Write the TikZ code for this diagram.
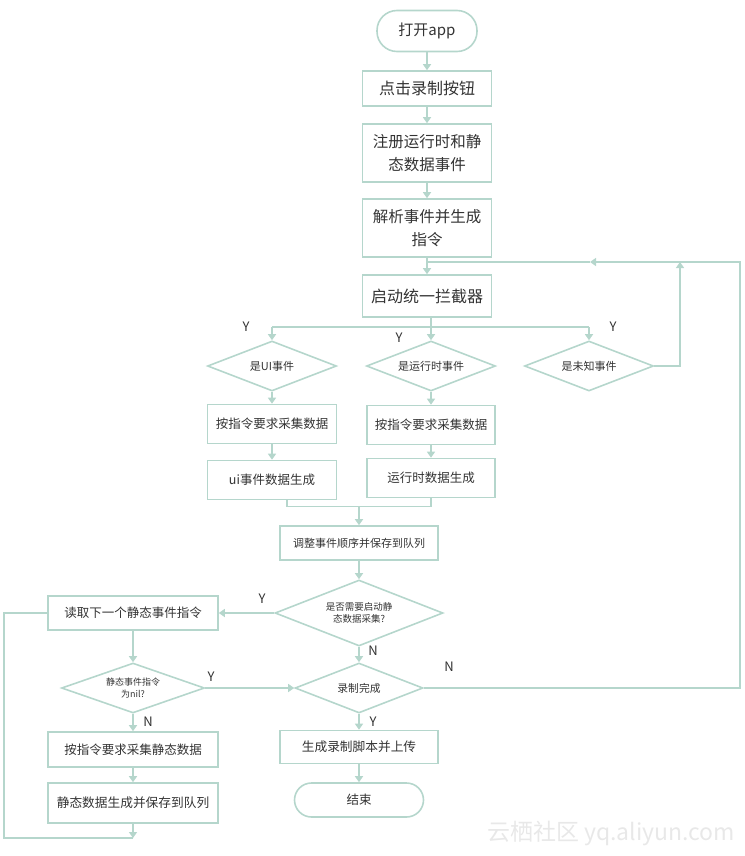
\documentclass[tikz,border=0pt]{standalone}
\usepackage{fontspec}
\setmainfont{Noto Sans CJK SC}
\usetikzlibrary{arrows.meta,shapes.geometric}
\definecolor{flowline}{RGB}{181,214,204}
\definecolor{flowtext}{RGB}{51,51,51}
\definecolor{marktext}{RGB}{232,232,232}
\tikzset{
	stepbox/.style={draw=flowline, line width=1.6pt, text=flowtext, align=center, inner sep=0pt, minimum width=129pt},
	termbox/.style={stepbox, rounded corners=17pt},
	askbox/.style={diamond, draw=flowline, line width=1.6pt, text=flowtext, align=center, inner sep=0pt, aspect=2.6, minimum width=129pt, minimum height=50pt},
	flow/.style={draw=flowline, line width=1.6pt, -{Triangle[width=8pt,length=6pt]}},
	joint/.style={draw=flowline, line width=1.6pt},
	yn/.style={text=flowtext, font=\fontsize{13}{13}\selectfont}
}
\newcommand{\fsz}[2]{\fontsize{#1}{#2}\selectfont}
\begin{document}
\begin{tikzpicture}[x=1pt,y=-1pt]
		\useasboundingbox (0,0) rectangle (744,856);
		% main column
		\node[termbox, rounded corners=20pt, minimum width=100pt, minimum height=41pt, font=\fsz{15}{22}] (start) at (427,31) {打开app};
		\node[stepbox, minimum height=35pt, font=\fsz{16}{23}] (rec) at (427,88.5) {点击录制按钮};
		\node[stepbox, minimum height=58pt, font=\fsz{15.5}{23}] (reg) at (427,153) {注册运行时和静\\态数据事件};
		\node[stepbox, minimum height=58pt, font=\fsz{15.5}{23}] (parse) at (427,228) {解析事件并生成\\指令};
		\node[stepbox, minimum height=42pt, font=\fsz{16}{23}] (icpt) at (427,296) {启动统一拦截器};
		% three event checks
		\node[askbox, font=\fsz{11}{14}] (isui) at (272,366) {是UI事件};
		\node[askbox, font=\fsz{11}{14}] (isrt) at (431,366) {是运行时事件};
		\node[askbox, font=\fsz{11}{14}] (isunk) at (589,366) {是未知事件};
		\node[stepbox, minimum height=39pt, font=\fsz{12.5}{16}] (uigather) at (272,424) {按指令要求采集数据};
		\node[stepbox, minimum height=39pt, font=\fsz{12.5}{16}] (uigen) at (272,480) {ui事件数据生成};
		\node[stepbox, minimum width=128pt, minimum height=39pt, font=\fsz{12.5}{16}] (rtgather) at (431,425) {按指令要求采集数据};
		\node[stepbox, minimum width=128pt, minimum height=39pt, font=\fsz{12.5}{16}] (rtgen) at (431,478) {运行时数据生成};
		% queue and static data
		\node[stepbox, minimum width=158pt, minimum height=34pt, font=\fsz{11}{14}] (queue) at (359,543) {调整事件顺序并保存到队列};
		\node[askbox, aspect=2.5, minimum width=168pt, minimum height=66pt, font=\fsz{9.5}{12.5}] (needst) at (359,613) {是否需要启动静\\态数据采集?};
		\node[stepbox, minimum width=170pt, minimum height=34pt, font=\fsz{12.5}{16}] (readst) at (133,613) {读取下一个静态事件指令};
		\node[askbox, aspect=2.86, minimum width=143pt, minimum height=50pt, font=\fsz{9}{12}] (isnil) at (133,688) {静态事件指令\\为nil?};
		\node[askbox, minimum width=128pt, font=\fsz{10.8}{14}] (done) at (359,688) {录制完成};
		\node[stepbox, minimum width=170pt, minimum height=35pt, font=\fsz{12.5}{16}] (stgather) at (133,749.5) {按指令要求采集静态数据};
		\node[stepbox, minimum width=170pt, minimum height=40pt, font=\fsz{12.7}{16}] (stgen) at (133,803) {静态数据生成并保存到队列};
		\node[stepbox, minimum width=158pt, minimum height=33pt, font=\fsz{12.7}{16}] (upload) at (359,747) {生成录制脚本并上传};
		\node[termbox, minimum height=34pt, font=\fsz{12.5}{16}] (finish) at (359,800) {结束};
		% branch labels
		\node[yn] (yui) at (246,327) {Y};
		\node[yn] (yrt) at (399,338) {Y};
		\node[yn] (yunk) at (613,327) {Y};
		\node[yn] (yneed) at (262,599) {Y};
		\node[yn] (ynil) at (211,677) {Y};
		\node[yn] (ydone) at (373,722) {Y};
		\node[yn] (nneed) at (373,651) {N};
		\node[yn] (ndone) at (449,667) {N};
		\node[yn] (nnil) at (148,722) {N};
		\node[text=marktext, font=\fsz{23}{23}] (wmark) at (611,833) {云栖社区 yq.aliyun.com};
		% helper points
		\coordinate (split) at (431,327);
		\coordinate (merge) at (359,506);
		\coordinate (back) at (427,262);
		\coordinate (backmid) at (590,262);
		\coordinate (rtop) at (740,262);
		\coordinate (utop) at (680,262);
		\coordinate (loopdn) at (133,838);
		% connectors
		\draw[flow] (start) -- (rec);
		\draw[flow] (rec) -- (reg);
		\draw[flow] (reg) -- (parse);
		\draw[flow] (parse) -- (icpt);
		\draw[joint] (icpt.south -| split) -- (split);
		\draw[joint] (isui.north |- split) -- (isunk.north |- split);
		\foreach \d in {isui,isrt,isunk}
		\draw[flow] (\d.north |- split) -- (\d.north);
		\draw[flow] (isui) -- (uigather);
		\draw[flow] (uigather) -- (uigen);
		\draw[flow] (isrt) -- (rtgather);
		\draw[flow] (rtgather) -- (rtgen);
		\draw[flow] (isunk.east) -| (utop);
		\draw[joint] ([xshift=15pt]uigen.south) -- ++(0,6) -| (rtgen.south);
		\draw[flow] (merge) -- (queue.north);
		\draw[flow] (queue) -- (needst);
		\draw[flow] (needst) -- (readst);
		\draw[flow] (needst) -- (done);
		\draw[flow] (readst) -- (isnil);
		\draw[flow] (isnil) -- (done);
		\draw[flow] (isnil) -- (stgather);
		\draw[flow] (stgather) -- (stgen);
		\draw[flow] (stgen) -- (loopdn);
		\draw[joint] (loopdn) -| ([xshift=-43pt]readst.west) -- (readst.west);
		\draw[flow] (done) -- (upload);
		\draw[flow] (upload) -- (finish);
		\draw[flow] (done.east) -| (rtop) -- (backmid);
		\draw[joint] (backmid) -- (back);
		\end{tikzpicture}
\end{document}
